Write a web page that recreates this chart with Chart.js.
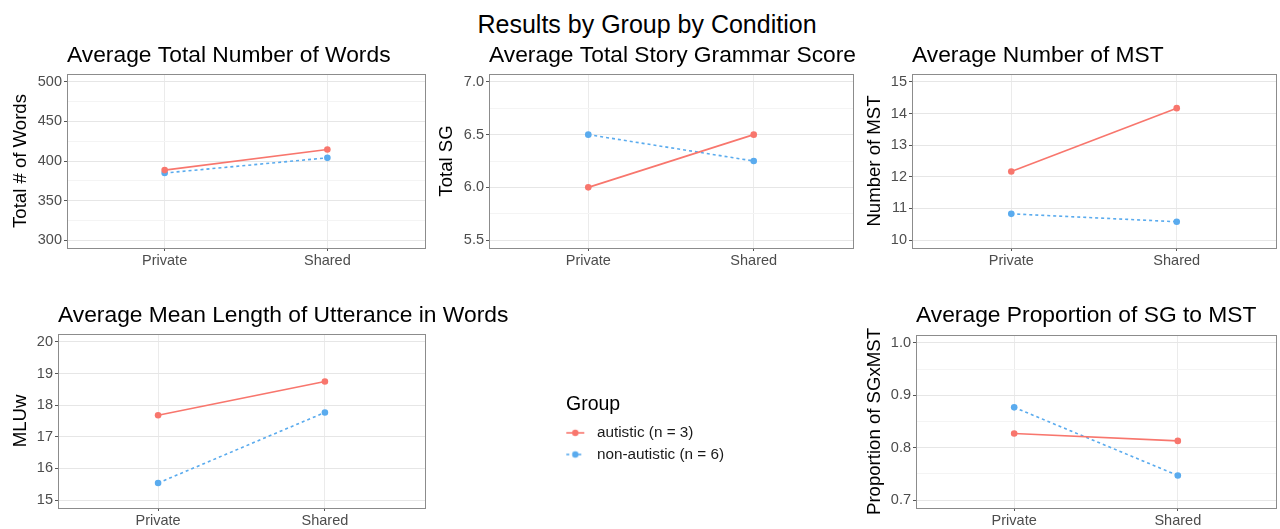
<!DOCTYPE html>
<html>
<head>
<meta charset="utf-8">
<script src="https://cdn.jsdelivr.net/npm/chart.js@4/dist/chart.umd.min.js"></script>
<style>
  html, body { margin: 0; padding: 0; background: #fff; overflow: hidden; }
  #wrap { position: relative; width: 1280px; height: 529px; font-family: "Liberation Sans", Arial, sans-serif; }
  #mainTitle { position: absolute; left: 0; top: 9px; width: 1294px; text-align: center; font-size: 25px; line-height: 30px; color: #000; }
  canvas { position: absolute; }
</style>
</head>
<body>
<div id="wrap">
  <div id="mainTitle">Results by Group by Condition</div>
</div>
<script>
// data
var conditions = ['Private', 'Shared'];
var groups = ['autistic (n = 3)', 'non-autistic (n = 6)'];

var wordsAutistic = [388.5, 414.5];
var wordsNonAutistic = [384.8, 404.0];
var wordsTicks = [300, 350, 400, 450, 500];

var sgAutistic = [6.0, 6.5];
var sgNonAutistic = [6.5, 6.25];
var sgTicks = [5.5, 6.0, 6.5, 7.0];

var mstAutistic = [12.17, 14.17];
var mstNonAutistic = [10.83, 10.58];
var mstTicks = [10, 11, 12, 13, 14, 15];

var mluAutistic = [17.68, 18.75];
var mluNonAutistic = [15.54, 17.77];
var mluTicks = [15, 16, 17, 18, 19, 20];

var propAutistic = [0.827, 0.813];
var propNonAutistic = [0.877, 0.747];
var propTicks = [0.7, 0.8, 0.9, 1.0];

var colorAutistic = '#F8766D';
var colorNonAutistic = '#5AABEE';
var fontFamily = '"Liberation Sans", Arial, sans-serif';

// grey frame round each panel + the panel title, left aligned on the frame
var panelDecor = {
  id: 'panelDecor',
  beforeDatasetsDraw: function (chart) {
    var a = chart.chartArea;
    var ctx = chart.ctx;
    ctx.save();
    ctx.strokeStyle = '#8c8c8c';
    ctx.lineWidth = 1;
    ctx.strokeRect(Math.round(a.left) + 0.5, Math.round(a.top) + 0.5, Math.round(a.right - a.left), Math.round(a.bottom - a.top));
    ctx.restore();
  },
  afterDraw: function (chart, args, opts) {
    var a = chart.chartArea;
    var ctx = chart.ctx;
    ctx.save();
    ctx.fillStyle = '#000';
    ctx.font = '22.8px ' + fontFamily;
    ctx.textAlign = 'left';
    ctx.textBaseline = 'alphabetic';
    ctx.fillText(opts.text, a.left, a.top - opts.gap);
    ctx.restore();
  }
};

function makePanel(p) {
  var padTop = 40;
  var axisTitleLH = 18.6 * 1.2;
  var canvasLeft = Math.round(p.axisTitleX - 13);
  var canvasTop = p.top - padTop;
  var padR = p.padR;
  var xAxisH = 30;

  var canvas = document.createElement('canvas');
  canvas.width = Math.round(p.right + padR - canvasLeft);
  canvas.height = Math.round(p.bottom - p.top + padTop + xAxisH);
  canvas.style.left = canvasLeft + 'px';
  canvas.style.top = canvasTop + 'px';
  document.getElementById('wrap').appendChild(canvas);

  var first = p.ticks[0], last = p.ticks[p.ticks.length - 1];
  var span = last - first;
  var step = p.ticks[1] - p.ticks[0];
  var allTicks = [];
  for (var i = 0; i < p.ticks.length; i++) {
    allTicks.push({ value: p.ticks[i], major: true });
    if (i < p.ticks.length - 1) allTicks.push({ value: p.ticks[i] + step / 2, major: false });
  }

  function pts(arr) {
    return arr.map(function (v, i) { return { x: i + 1, y: v }; });
  }

  return new Chart(canvas.getContext('2d'), {
    type: 'line',
    data: {
      datasets: [
        {
          label: groups[0],
          data: pts(p.autistic),
          borderColor: colorAutistic,
          backgroundColor: colorAutistic,
          pointBackgroundColor: colorAutistic,
          borderWidth: 1.6,
          pointRadius: 3.3,
          pointBorderWidth: 0
        },
        {
          label: groups[1],
          data: pts(p.nonAutistic),
          borderColor: colorNonAutistic,
          backgroundColor: colorNonAutistic,
          pointBackgroundColor: colorNonAutistic,
          borderWidth: 1.6,
          borderDash: [3, 3],
          pointRadius: 3.3,
          pointBorderWidth: 0
        }
      ]
    },
    options: {
      responsive: false,
      animation: false,
      layout: { padding: { left: 0, top: padTop, right: padR, bottom: 0 } },
      plugins: {
        legend: { display: false },
        tooltip: { enabled: false },
        panelDecor: { text: p.title, gap: p.top - p.titleBaseline }
      },
      scales: {
        x: {
          type: 'linear',
          min: 0.4,
          max: 2.6,
          afterBuildTicks: function (s) { s.ticks = [{ value: 1 }, { value: 2 }]; },
          afterFit: function (s) { s.height = xAxisH; },
          border: { display: false },
          grid: { color: '#ebebeb', lineWidth: 1, tickLength: 3, tickColor: '#555' },
          ticks: {
            padding: 1,
            color: '#4d4d4d',
            font: { family: fontFamily, size: 14.5 },
            callback: function (v) { return conditions[v - 1]; }
          }
        },
        y: {
          type: 'linear',
          min: first - 0.05 * span,
          max: last + 0.05 * span,
          afterBuildTicks: function (s) {
            s.ticks = allTicks.map(function (t) { return { value: t.value, major: t.major }; });
          },
          afterFit: function (s) { s.width = p.left - canvasLeft; },
          border: { display: false },
          grid: {
            tickLength: 3,
            lineWidth: 1,
            color: function (c) { return c.tick && c.tick.major ? '#e6e6e6' : '#f4f4f4'; },
            tickColor: function (c) { return c.tick && c.tick.major ? '#555' : 'rgba(0,0,0,0)'; }
          },
          ticks: {
            padding: 2,
            color: '#4d4d4d',
            font: { family: fontFamily, size: 14.5 },
            callback: function (v, idx, ticks) {
              return ticks[idx].major ? (p.decimals ? v.toFixed(p.decimals) : String(Math.round(v))) : '';
            }
          },
          title: {
            display: true,
            text: p.yTitle,
            color: '#000',
            font: { family: fontFamily, size: 18.6, lineHeight: 1.2 },
            padding: { top: p.axisTitleX - canvasLeft - axisTitleLH / 2, bottom: 0 }
          }
        }
      }
    },
    plugins: [panelDecor]
  });
}

makePanel({ title: 'Average Total Number of Words', yTitle: 'Total # of Words', autistic: wordsAutistic, nonAutistic: wordsNonAutistic, ticks: wordsTicks, decimals: 0,
  left: 67, right: 425, top: 74, bottom: 248, axisTitleX: 21, titleBaseline: 62, padR: 4 });
makePanel({ title: 'Average Total Story Grammar Score', yTitle: 'Total SG', autistic: sgAutistic, nonAutistic: sgNonAutistic, ticks: sgTicks, decimals: 1,
  left: 489, right: 853, top: 74, bottom: 248, axisTitleX: 447, titleBaseline: 62, padR: 14 });
makePanel({ title: 'Average Number of MST', yTitle: 'Number of MST', autistic: mstAutistic, nonAutistic: mstNonAutistic, ticks: mstTicks, decimals: 0,
  left: 912, right: 1278, top: 74, bottom: 248, axisTitleX: 875, titleBaseline: 62, padR: 2 });
makePanel({ title: 'Average Mean Length of Utterance in Words', yTitle: 'MLUw', autistic: mluAutistic, nonAutistic: mluNonAutistic, ticks: mluTicks, decimals: 0,
  left: 58, right: 425, top: 334, bottom: 508, axisTitleX: 21, titleBaseline: 322, padR: 100 });
makePanel({ title: 'Average Proportion of SG to MST', yTitle: 'Proportion of SGxMST', autistic: propAutistic, nonAutistic: propNonAutistic, ticks: propTicks, decimals: 1,
  left: 916, right: 1278, top: 335, bottom: 508, axisTitleX: 875, titleBaseline: 322, padR: 2 });

// legend: line + dot keys
function makeKey(color, dashed) {
  var c = document.createElement('canvas');
  c.width = 31;
  c.height = 10;
  var k = c.getContext('2d');
  k.strokeStyle = color;
  k.lineWidth = 1.6;
  if (dashed) k.setLineDash([3, 3]);
  k.beginPath();
  k.moveTo(1, 5);
  k.lineTo(19, 5);
  k.stroke();
  k.fillStyle = color;
  k.beginPath();
  k.arc(10, 5, 3.2, 0, Math.PI * 2);
  k.fill();
  return c;
}
var keyImages = [makeKey(colorAutistic, false), makeKey(colorNonAutistic, true)];

var legCanvas = document.createElement('canvas');
legCanvas.width = 420;
legCanvas.height = 90;
legCanvas.style.left = '566px';
legCanvas.style.top = '395px';
document.getElementById('wrap').appendChild(legCanvas);

new Chart(legCanvas.getContext('2d'), {
  type: 'line',
  data: {
    datasets: [
      { label: groups[0], data: [], borderColor: colorAutistic },
      { label: groups[1], data: [], borderColor: colorNonAutistic }
    ]
  },
  options: {
    responsive: false,
    animation: false,
    layout: { padding: 0 },
    scales: { x: { display: false }, y: { display: false } },
    plugins: {
      tooltip: { enabled: false },
      legend: {
        display: true,
        position: 'left',
        align: 'start',
        title: {
          display: true,
          text: 'Group',
          position: 'start',
          color: '#000',
          font: { family: fontFamily, size: 19.5, lineHeight: 1.2 },
          padding: { top: 0, bottom: 0.5 }
        },
        labels: {
          usePointStyle: true,
          pointStyleWidth: 17,
          padding: 6.3,
          color: '#1a1a1a',
          font: { family: fontFamily, size: 15.3 },
          generateLabels: function () {
            return groups.map(function (g, i) {
              return {
                text: g,
                pointStyle: keyImages[i],
                fillStyle: 'rgba(0,0,0,0)',
                strokeStyle: 'rgba(0,0,0,0)',
                lineWidth: 0,
                hidden: false,
                datasetIndex: i,
                fontColor: '#1a1a1a'
              };
            });
          }
        }
      }
    }
  }
});
</script>
</body>
</html>
